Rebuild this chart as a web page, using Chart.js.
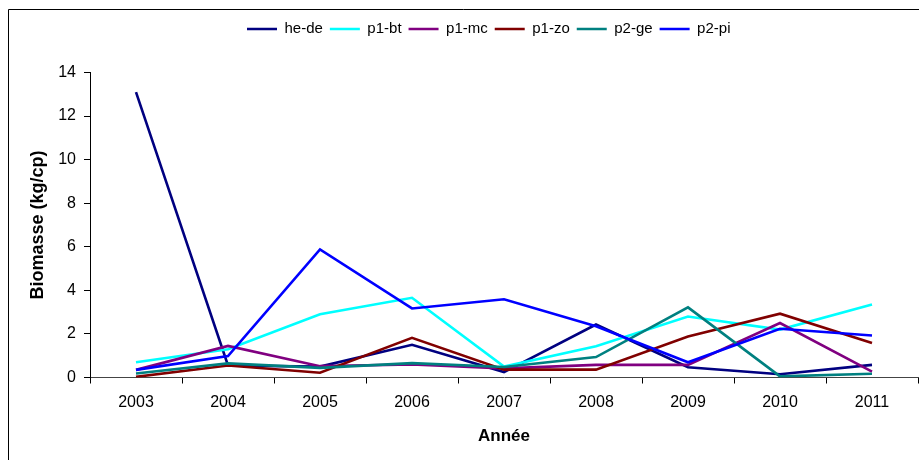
<!DOCTYPE html>
<html>
<head>
<meta charset="utf-8">
<script src="https://cdn.jsdelivr.net/npm/chart.js@4"></script>
<style>
  html, body { margin: 0; padding: 0; background: #fff; overflow: hidden; }
</style>
</head>
<body>
<canvas id="myChart" width="919" height="460"></canvas>
<script>
const years = ['2003', '2004', '2005', '2006', '2007', '2008', '2009', '2010', '2011'];
const seriesNames = ['he-de', 'p1-bt', 'p1-mc', 'p1-zo', 'p2-ge', 'p2-pi'];
const heDe = [13.1, 0.55, 0.5, 1.5, 0.25, 2.43, 0.47, 0.15, 0.58];
const p1Bt = [0.7, 1.3, 2.9, 3.66, 0.5, 1.43, 2.8, 2.2, 3.35];
const p1Mc = [0.35, 1.45, 0.52, 0.6, 0.42, 0.58, 0.58, 2.5, 0.27];
const p1Zo = [0.03, 0.55, 0.22, 1.82, 0.36, 0.36, 1.88, 2.93, 1.58];
const p2Ge = [0.18, 0.65, 0.44, 0.66, 0.48, 0.94, 3.22, 0.05, 0.17];
const p2Pi = [0.35, 0.98, 5.88, 3.17, 3.59, 2.35, 0.7, 2.24, 1.93];
const colors = ['#000080', '#00FFFF', '#800080', '#800000', '#008080', '#0000FF'];

const allValues = [heDe, p1Bt, p1Mc, p1Zo, p2Ge, p2Pi];
const font = 'Arial, "Liberation Sans", sans-serif';

// frame around the chart + legend placement like the Excel original
const frameAndLegend = {
  id: 'frameAndLegend',
  beforeInit(chart) {
    const legend = chart.legend;
    const fit = legend.fit;
    legend.fit = function () { fit.call(this); this.height += 26; };
  },
  beforeDraw(chart) {
    const lg = chart.legend;
    lg.left = 0;
    lg.right = 2 * 247 - 7 + lg.lineWidths[0];
    const ctx = chart.ctx;
    ctx.save();
    ctx.strokeStyle = '#000';
    ctx.lineWidth = 1;
    ctx.beginPath();
    ctx.moveTo(8.5, 460);
    ctx.lineTo(8.5, 9.5);
    ctx.lineTo(919, 9.5);
    ctx.stroke();
    ctx.restore();
  }
};

const ctx = document.getElementById('myChart');
new Chart(ctx, {
  type: 'line',
  data: {
    labels: years,
    datasets: seriesNames.map((name, i) => ({
      label: name,
      data: allValues[i],
      borderColor: colors[i],
      backgroundColor: colors[i],
      borderWidth: 2.6,
      pointRadius: 0,
      tension: 0,
      fill: false,
      order: 5 - i
    }))
  },
  options: {
    responsive: false,
    animation: false,
    devicePixelRatio: 1,
    layout: { padding: { top: 14.5, left: 0, right: 1, bottom: 0 } },
    plugins: {
      tooltip: { enabled: false },
      legend: {
        position: 'top',
        labels: {
          usePointStyle: true,
          pointStyle: 'line',
          pointStyleWidth: 30,
          padding: 7,
          color: '#000',
          font: { family: font, size: 15 },
          sort: (a, b) => a.datasetIndex - b.datasetIndex
        }
      }
    },
    scales: {
      x: {
        offset: true,
        afterFit: (s) => { s.height = 82.5; },
        grid: { offset: true, drawOnChartArea: false, tickLength: 6, color: '#000' },
        border: { color: '#444', width: 1 },
        ticks: { color: '#000', padding: 9, maxRotation: 0, font: { family: font, size: 16 } },
        title: { display: true, text: 'Année', color: '#000', padding: { top: 0, bottom: 13 },
                 font: { family: font, size: 17, weight: 'bold' } }
      },
      y: {
        min: 0,
        max: 14,
        afterFit: (s) => { s.width = 90; },
        grid: { drawOnChartArea: false, tickLength: 6, color: '#000' },
        border: { color: '#000', width: 1 },
        ticks: { stepSize: 2, color: '#000', padding: 8, font: { family: font, size: 16 } },
        title: { display: true, text: 'Biomasse (kg/cp)', color: '#000', padding: { top: 27, bottom: 0 },
                 font: { family: font, size: 18, weight: 'bold' } }
      }
    }
  },
  plugins: [frameAndLegend]
});
</script>
</body>
</html>
